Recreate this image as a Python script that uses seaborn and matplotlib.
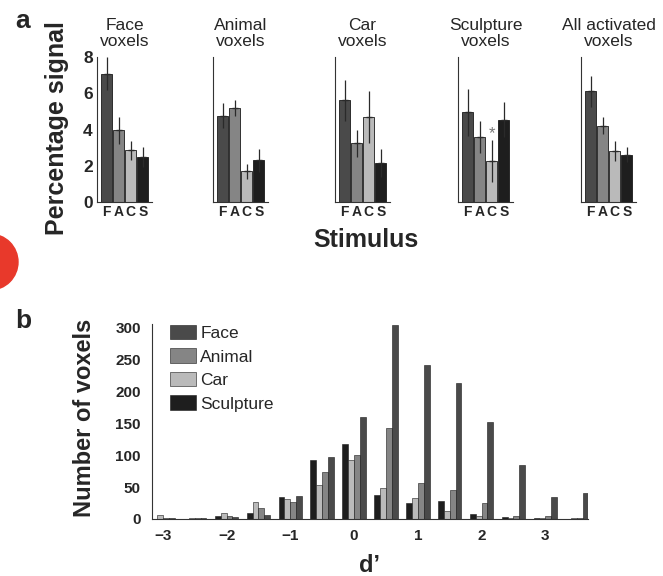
import numpy as np
import pandas as pd
import matplotlib
matplotlib.use('Agg')
import matplotlib.pyplot as plt
import seaborn as sns
from matplotlib.patches import Ellipse, Patch

# ---------------- data: panel a ----------------
stimuli = ['F', 'A', 'C', 'S']
panel_titles = ['Face\nvoxels', 'Animal\nvoxels', 'Car\nvoxels',
                'Sculpture\nvoxels', 'All activated\nvoxels']
face_vox = [7.08, 3.95, 2.85, 2.48]
face_vox_err = [0.92, 0.74, 0.51, 0.55]
animal_vox = [4.76, 5.20, 1.69, 2.30]
animal_vox_err = [0.70, 0.44, 0.42, 0.62]
car_vox = [5.61, 3.25, 4.69, 2.15]
car_vox_err = [1.14, 0.74, 1.45, 0.77]
sculpt_vox = [4.94, 3.58, 2.28, 4.54]
sculpt_vox_err = [1.29, 0.89, 1.16, 0.96]
all_vox = [6.10, 4.21, 2.79, 2.61]
all_vox_err = [0.87, 0.48, 0.55, 0.40]
yticks_a = [0, 2, 4, 6, 8]
star_height = 3.75  # asterisk above Car bar of sculpture voxels

# ---------------- data: panel b ----------------
dprime = [-3.0, -2.5, -2.0, -1.5, -1.0, -0.5, 0.0, 0.5, 1.0, 1.5, 2.0, 2.5, 3.0, 3.5]
count_sculpture = [0, 0, 5, 10, 35, 93, 117, 38, 25, 28, 8, 3, 2, 0]
count_car = [7, 2, 9, 27, 31, 53, 93, 49, 33, 12, 4, 1, 1, 1]
count_animal = [2, 2, 4, 17, 27, 73, 100, 143, 56, 46, 25, 4, 4, 1]
count_face = [1, 1, 3, 7, 36, 97, 160, 303, 241, 212, 151, 85, 34, 41]
xticks_b = [-3, -2, -1, 0, 1, 2, 3]
yticks_b = [0, 50, 100, 150, 200, 250, 300]
legend_order = ['Face', 'Animal', 'Car', 'Sculpture']
bar_order = ['Sculpture', 'Car', 'Animal', 'Face']

colors = {'Face': '#4a4a4a', 'Animal': '#858585', 'Car': '#bababa', 'Sculpture': '#1e1e1e'}
stim_colors = {'F': colors['Face'], 'A': colors['Animal'], 'C': colors['Car'], 'S': colors['Sculpture']}

sns.set_style('white')
plt.rcParams['font.family'] = ['Liberation Sans', 'DejaVu Sans']

W, H = 663, 576
fig = plt.figure(figsize=(W / 100, H / 100), dpi=100)

def rect(x0, y0, x1, y1):
    return [x0 / W, 1 - y1 / H, (x1 - x0) / W, (y1 - y0) / H]

# ---------------- panel a ----------------
lefts = [97, 213, 335, 458, 581]
vals_list = [face_vox, animal_vox, car_vox, sculpt_vox, all_vox]
errs_list = [face_vox_err, animal_vox_err, car_vox_err, sculpt_vox_err, all_vox_err]
for i, (l, vals, errs, title) in enumerate(zip(lefts, vals_list, errs_list, panel_titles)):
    ax = fig.add_axes(rect(l, 57, l + 55, 202))
    df = pd.DataFrame({'stim': stimuli, 'val': vals})
    sns.barplot(data=df, x='stim', y='val', hue='stim', palette=stim_colors,
                legend=False, width=0.92, edgecolor='#1a1a1a', linewidth=0.6,
                errorbar=None, ax=ax)
    ax.errorbar(np.arange(len(stimuli)), vals, yerr=errs, fmt='_', color='#2a2a2a',
                ms=5, mew=1.0, elinewidth=0.9, capsize=0)
    ax.set_xlim(-0.8, 3.75)
    ax.set_ylim(0, 8)
    ax.set_yticks(yticks_a)
    ax.set_xlabel('')
    ax.set_ylabel('')
    for s in ['top', 'right']:
        ax.spines[s].set_visible(False)
    for s in ['left', 'bottom']:
        ax.spines[s].set_color('#333333')
        ax.spines[s].set_linewidth(0.8)
    ax.tick_params(axis='y', direction='in', length=2.5, width=0.6, color='#555555',
                   labelsize=12.5, pad=3)
    ax.tick_params(axis='x', length=0, labelsize=10, pad=2)
    for t in ax.get_xticklabels():
        t.set_fontweight('bold')
    if i == 0:
        for t in ax.get_yticklabels():
            t.set_fontweight('bold')
    else:
        ax.set_yticklabels([])
    ax.set_title(title, fontsize=12.5, pad=8, linespacing=1.05)
    if i == 3:
        ax.text(2, star_height, '*', ha='center', va='center', fontsize=12, color='#777777')

fig.text(57 / W, 1 - 128 / H, 'Percentage signal', rotation=90, ha='center', va='center',
         fontsize=18, fontweight='bold')
fig.text(366 / W, 1 - 240 / H, 'Stimulus', ha='center', va='center',
         fontsize=18, fontweight='bold')
fig.text(15 / W, 1 - 28 / H, 'a', ha='left', va='baseline', fontsize=19, fontweight='bold')

# ---------------- panel b ----------------
axb = fig.add_axes(rect(152, 324, 588, 519))
long = pd.DataFrame({
    'd': dprime * 4,
    'count': count_sculpture + count_car + count_animal + count_face,
    'stim': ['Sculpture'] * len(dprime) + ['Car'] * len(dprime)
            + ['Animal'] * len(dprime) + ['Face'] * len(dprime),
})
sns.barplot(data=long, x='d', y='count', hue='stim', hue_order=bar_order,
            palette=colors, native_scale=True, width=0.74, edgecolor='#1a1a1a',
            linewidth=0.4, errorbar=None, legend=False, ax=axb)
axb.set_xlim(-3.17, 3.67)
axb.set_ylim(0, 305)
axb.set_xticks(xticks_b)
axb.set_yticks(yticks_b)
axb.set_xticklabels([f'{v:d}'.replace('-', '\u2212') for v in xticks_b])
axb.set_xlabel('')
axb.set_ylabel('')
for s in ['top', 'right']:
    axb.spines[s].set_visible(False)
for s in ['left', 'bottom']:
    axb.spines[s].set_color('#333333')
    axb.spines[s].set_linewidth(0.8)
axb.tick_params(axis='both', direction='in', length=0, labelsize=11)
axb.tick_params(axis='y', pad=8)
axb.tick_params(axis='x', pad=7)
for t in axb.get_xticklabels() + axb.get_yticklabels():
    t.set_fontweight('bold')

handles = [Patch(facecolor=colors[k], edgecolor='#1a1a1a', linewidth=0.4) for k in legend_order]
axb.legend(handles, legend_order, loc='upper left',
           bbox_to_anchor=((170 - 152) / 436, 1 - 1 / 195), frameon=False,
           borderaxespad=0, borderpad=0, fontsize=12.5, handlelength=1.5,
           handleheight=0.9, handletextpad=0.25, labelspacing=0.42)

fig.text(85 / W, 1 - 418 / H, 'Number of voxels', rotation=90, ha='center', va='center',
         fontsize=17, fontweight='bold')
fig.text(370 / W, 1 - 572 / H, 'd\u2019', ha='center', va='baseline',
         fontsize=17, fontweight='bold')
fig.text(15 / W, 1 - 328 / H, 'b', ha='left', va='baseline', fontsize=19, fontweight='bold')

# red mark at the left edge
fig.patches.append(Ellipse((-10 / W, 1 - 262 / H), 56 / W, 56 / H,
                           transform=fig.transFigure, color='#e8392b', zorder=0))

fig.savefig('out.png', dpi=100)
